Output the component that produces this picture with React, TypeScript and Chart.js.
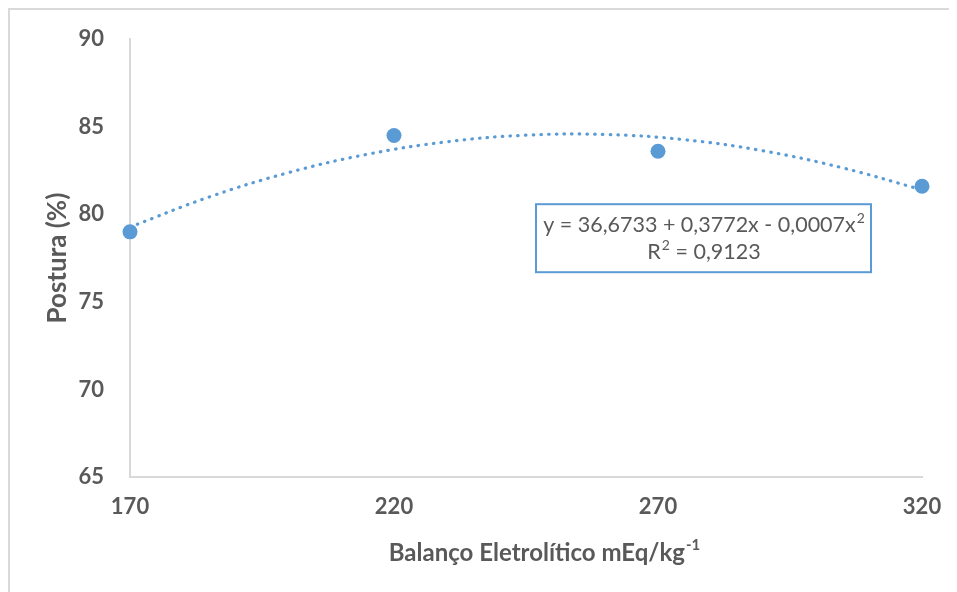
import { useEffect, useRef } from 'react';
import { Chart, registerables } from 'chart.js';

Chart.register(...registerables);

const balanco = [170, 220, 270, 320];
const postura = [79.0, 84.5, 83.6, 81.6];
const trendX = [170, 185, 200, 215, 230, 245, 260, 275, 290, 305, 320];
const trendY = [79.27, 80.99, 82.38, 83.43, 84.14, 84.52, 84.56, 84.26, 83.62, 82.65, 81.4];
const xTicks = [170, 220, 270, 320];
const yTicks = [65, 70, 75, 80, 85, 90];
const equationParts = ['y = 36,6733 + 0,3772x - 0,0007x', '2'];
const r2Parts = ['R', '2', ' = 0,9123'];
const xTitle = 'Balanço Eletrolítico mEq/kg';
const xTitleSup = '-1';
const yTitle = 'Postura (%)';

const BLUE = '#5b9bd5';
const GREY = '#595959';
const FONT = 'Lato, "Open Sans", sans-serif';

const decorPlugin = {
  id: 'decor',
  beforeDraw(chart: any) {
    const ctx = chart.ctx;
    ctx.save();
    ctx.fillStyle = '#d9d9d9';
    ctx.fillRect(0, 0, chart.width, 2);
    ctx.fillRect(0, 0, 2, chart.height);
    ctx.restore();
  },
  afterDraw(chart: any) {
    const ctx = chart.ctx;
    const a = chart.chartArea;
    ctx.save();
    // equation box
    const bx = a.left + 406;
    const by = a.top + 165;
    const bw = 335;
    const bh = 68;
    ctx.strokeStyle = BLUE;
    ctx.lineWidth = 2;
    ctx.strokeRect(bx, by, bw, bh);
    ctx.fillStyle = GREY;
    ctx.textBaseline = 'middle';
    ctx.textAlign = 'left';
    const big = `21.5px ${FONT}`;
    const small = `14px ${FONT}`;
    // line 1
    ctx.font = big;
    const w1 = ctx.measureText(equationParts[0]).width;
    ctx.font = small;
    const w1s = ctx.measureText(equationParts[1]).width;
    let x1 = bx + bw / 2 - (w1 + w1s) / 2;
    ctx.font = big;
    ctx.fillText(equationParts[0], x1, by + 21);
    ctx.font = small;
    ctx.fillText(equationParts[1], x1 + w1 + 1, by + 14);
    // line 2
    ctx.font = big;
    const wa = ctx.measureText(r2Parts[0]).width;
    const wc = ctx.measureText(r2Parts[2]).width;
    ctx.font = small;
    const wb = ctx.measureText(r2Parts[1]).width;
    let x2 = bx + bw / 2 - (wa + wb + wc) / 2;
    ctx.font = big;
    ctx.fillText(r2Parts[0], x2, by + 48);
    ctx.font = small;
    ctx.fillText(r2Parts[1], x2 + wa + 1, by + 41);
    ctx.font = big;
    ctx.fillText(r2Parts[2], x2 + wa + wb + 1, by + 48);
    // x title
    ctx.font = `bold 24px ${FONT}`;
    const mainW = ctx.measureText(xTitle).width;
    ctx.font = `bold 15px ${FONT}`;
    const supW = ctx.measureText(xTitleSup).width;
    const cx = a.left + 414;
    const cy = a.bottom + 76;
    const sx = cx - (mainW + supW) / 2;
    ctx.font = `bold 24px ${FONT}`;
    ctx.fillText(xTitle, sx, cy);
    ctx.font = `bold 15px ${FONT}`;
    ctx.fillText(xTitleSup, sx + mainW + 1, cy - 8);
    ctx.restore();
  },
};

export default function App() {
  const ref = useRef<HTMLCanvasElement | null>(null);
  useEffect(() => {
    if (!ref.current) return;
    const chart = new Chart(ref.current, {
      type: 'scatter',
      data: {
        datasets: [
          {
            type: 'scatter',
            label: 'Postura',
            data: balanco.map((x, i) => ({ x, y: postura[i] })),
            pointRadius: 7.5,
            pointBackgroundColor: BLUE,
            pointBorderColor: BLUE,
            pointBorderWidth: 0,
            clip: false as any,
          },
          {
            type: 'line',
            label: 'Tendência',
            data: trendX.map((x, i) => ({ x, y: trendY[i] })),
            borderColor: BLUE,
            borderWidth: 3.2,
            borderDash: [0.5, 7.2],
            borderCapStyle: 'round',
            tension: 0.4,
            pointRadius: 0,
            fill: false,
            clip: false as any,
          },
        ],
      },
      options: {
        animation: false,
        responsive: false,
        layout: { padding: { top: 24, right: 35, left: 0, bottom: 0 } },
        plugins: { legend: { display: false }, tooltip: { enabled: false } },
        scales: {
          x: {
            type: 'linear',
            min: 170,
            max: 320,
            afterBuildTicks: (s: any) => {
              s.ticks = xTicks.map((v) => ({ value: v }));
            },
            afterFit: (s: any) => {
              s.height = 115;
            },
            grid: { display: false },
            border: { display: true, color: '#d9d9d9', width: 2 },
            ticks: {
              color: GREY,
              font: { family: FONT, size: 22, weight: 'bold' },
              padding: 9,
              maxRotation: 0,
              autoSkip: false,
            },
          },
          y: {
            type: 'linear',
            min: 65,
            max: 90,
            afterBuildTicks: (s: any) => {
              s.ticks = yTicks.map((v) => ({ value: v }));
            },
            afterFit: (s: any) => {
              s.width = 122;
            },
            grid: { display: false },
            border: { display: true, color: '#d9d9d9', width: 2 },
            ticks: {
              color: GREY,
              font: { family: FONT, size: 22, weight: 'bold' },
              padding: 18,
            },
            title: {
              display: true,
              text: yTitle,
              color: GREY,
              font: { family: FONT, size: 26, weight: 'bold' },
              padding: { top: 34, bottom: 0 },
            },
          },
        },
      },
      plugins: [decorPlugin],
    } as any);
    return () => chart.destroy();
  }, []);
  return (
    <div style={{ width: 949, height: 584 }}>
      <canvas ref={ref} width={949} height={584} style={{ display: 'block' }} />
    </div>
  );
}
